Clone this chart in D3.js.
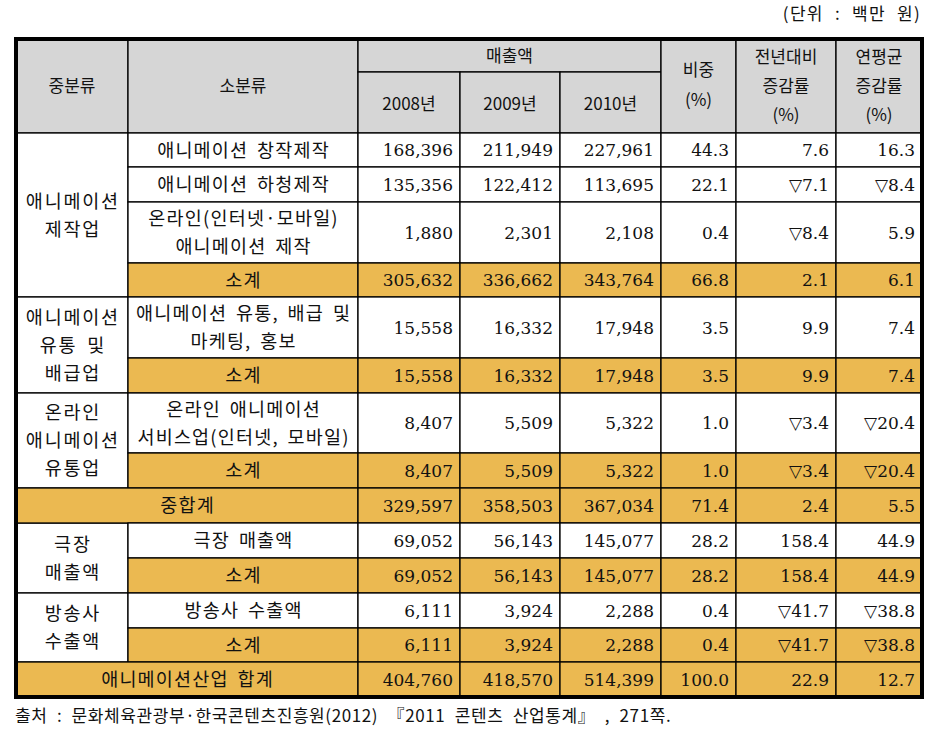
<!DOCTYPE html>
<html>
<head>
<meta charset="utf-8">
<script src="https://cdn.jsdelivr.net/npm/d3@7"></script>
<style>
  body { margin: 0; background: #fff; }
</style>
</head>
<body>
<div id="table"></div>
<script>
// Table values
var years = ["2008년", "2009년", "2010년"];
var subLabels = [
    "애니메이션 창작제작", "애니메이션 하청제작", "온라인(인터넷·모바일)|애니메이션 제작", "소계",
    "애니메이션 유통, 배급 및|마케팅, 홍보", "소계",
    "온라인 애니메이션|서비스업(인터넷, 모바일)", "소계",
    "중합계",
    "극장 매출액", "소계",
    "방송사 수출액", "소계",
    "애니메이션산업 합계"
];
var sales2008 = [168396, 135356, 1880, 305632, 15558, 15558, 8407, 8407, 329597, 69052, 69052, 6111, 6111, 404760];
var sales2009 = [211949, 122412, 2301, 336662, 16332, 16332, 5509, 5509, 358503, 56143, 56143, 3924, 3924, 418570];
var sales2010 = [227961, 113695, 2108, 343764, 17948, 17948, 5322, 5322, 367034, 145077, 145077, 2288, 2288, 514399];
var share = [44.3, 22.1, 0.4, 66.8, 3.5, 3.5, 1.0, 1.0, 71.4, 28.2, 28.2, 0.4, 0.4, 100.0];
var yoy = [7.6, -7.1, -8.4, 2.1, 9.9, 9.9, -3.4, -3.4, 2.4, 158.4, 158.4, -41.7, -41.7, 22.9];
var cagr = [16.3, -8.4, 5.9, 6.1, 7.4, 7.4, -20.4, -20.4, 5.5, 44.9, 44.9, -38.8, -38.8, 12.7];

// middle categories: label + first/last row index
var midLabels = ["애니메이션|제작업", "애니메이션|유통 및|배급업", "온라인|애니메이션|유통업", "극장|매출액", "방송사|수출액"];
var midStart = [0, 4, 6, 9, 11];
var midEnd = [3, 5, 7, 10, 12];
var subtotalRows = [3, 5, 7, 8, 10, 12, 13];
var totalRows = [8, 13];   // span both label columns

var unitText = "(단위 : 백만 원)";
var sourceText = "출처 : 문화체육관광부·한국콘텐츠진흥원(2012) 『2011 콘텐츠 산업통계』 , 271쪽.";

// Layout
var colX = [16, 128, 358, 460, 560, 661, 736, 836, 922];
var headTop = 39, headMid = 72, headBottom = 133;
var rowHeights = [34, 35, 61, 34, 61, 35, 60, 35, 35, 35, 35, 35, 34, 35];
var rowY = [headBottom].concat(Array.from(d3.cumsum(rowHeights), v => v + headBottom));

var gold = "#ebb951", grey = "#d6d6d6";
var sansKr = "'Noto Sans CJK KR', sans-serif";
var numFont = "'DejaVu Serif', serif";

var svg = d3.select("#table")
    .append("svg")
        .attr("width", 946)
        .attr("height", 749);

var fmt = d3.format(",");
function fmtPct(v) {
    return (v < 0 ? "▽" : "") + Math.abs(v).toFixed(1);
}

function cell(x0, x1, y0, y1, fill) {
    svg.append("rect")
        .attr("x", x0).attr("y", y0)
        .attr("width", x1 - x0).attr("height", y1 - y0)
        .attr("fill", fill)
        .attr("stroke", "#000")
        .attr("stroke-width", 1.3);
}

function multiText(lines, cx, cy, lh, font, size, anchor, spacing) {
    var t = svg.append("text")
        .attr("font-family", font)
        .attr("font-size", size)
        .attr("text-anchor", anchor || "middle")
        .attr("fill", "#111");
    if (spacing) {
        t.attr("letter-spacing", spacing[0]).attr("word-spacing", spacing[1]);
    }
    var y0 = cy - (lines.length - 1) * lh / 2;
    lines.forEach(function(s, i) {
        t.append("tspan")
            .attr("x", cx + (spacing ? spacing[0] / 2 : 0))
            .attr("y", y0 + i * lh)
            .attr("dy", "0.36em")
            .text(s);
    });
}

// Header
cell(colX[0], colX[1], headTop, headBottom, grey);
cell(colX[1], colX[2], headTop, headBottom, grey);
cell(colX[2], colX[5], headTop, headMid, grey);
years.forEach(function(y, i) {
    cell(colX[2 + i], colX[3 + i], headMid, headBottom, grey);
    multiText([y], (colX[2 + i] + colX[3 + i]) / 2, (headMid + headBottom) / 2 + 1, 0, sansKr, 17);
});
cell(colX[5], colX[6], headTop, headBottom, grey);
cell(colX[6], colX[7], headTop, headBottom, grey);
cell(colX[7], colX[8], headTop, headBottom, grey);
var hc = (headTop + headBottom) / 2;
multiText(["중분류"], (colX[0] + colX[1]) / 2, hc, 0, sansKr, 17);
multiText(["소분류"], (colX[1] + colX[2]) / 2, hc, 0, sansKr, 17);
multiText(["매출액"], (colX[2] + colX[5]) / 2, (headTop + headMid) / 2, 0, sansKr, 17);
multiText(["비중", "(%)"], (colX[5] + colX[6]) / 2, hc - 1, 30, sansKr, 17);
multiText(["전년대비", "증감률", "(%)"], (colX[6] + colX[7]) / 2, hc, 29, sansKr, 17);
multiText(["연평균", "증감률", "(%)"], (colX[7] + colX[8]) / 2, hc, 29, sansKr, 17);

// Middle category cells
midLabels.forEach(function(lab, i) {
    var y0 = rowY[midStart[i]], y1 = rowY[midEnd[i] + 1];
    cell(colX[0], colX[1], y0, y1, "#fff");
    multiText(lab.split("|"), (colX[0] + colX[1]) / 2, (y0 + y1) / 2, 28, sansKr, 18.5, "middle", [1.8, 4]);
});

// Body rows
subLabels.forEach(function(lab, r) {
    var y0 = rowY[r], y1 = rowY[r + 1], cy = (y0 + y1) / 2;
    var fill = subtotalRows.indexOf(r) >= 0 ? gold : "#fff";
    var x0 = totalRows.indexOf(r) >= 0 ? colX[0] : colX[1];
    cell(x0, colX[2], y0, y1, fill);
    multiText(lab.split("|"), (x0 + colX[2]) / 2, cy, 28, sansKr, 18.5, "middle", [1.2, 3.5]);

    var vals = [fmt(sales2008[r]), fmt(sales2009[r]), fmt(sales2010[r]),
                share[r].toFixed(1), fmtPct(yoy[r]), fmtPct(cagr[r])];
    vals.forEach(function(v, c) {
        cell(colX[2 + c], colX[3 + c], y0, y1, fill);
        multiText([v], colX[3 + c] - 7, cy, 0, numFont, 17, "end");
    });
});

// Thick outer border
svg.append("rect")
    .attr("x", colX[0]).attr("y", headTop)
    .attr("width", colX[8] - colX[0])
    .attr("height", rowY[rowY.length - 1] - headTop)
    .attr("fill", "none")
    .attr("stroke", "#000")
    .attr("stroke-width", 4);

// Unit and source notes
svg.append("text")
    .attr("x", 921).attr("y", 14).attr("dy", "0.36em")
    .attr("text-anchor", "end")
    .attr("font-family", sansKr)
    .attr("font-size", 17)
    .attr("letter-spacing", 1.3)
    .attr("word-spacing", 6)
    .attr("fill", "#111")
    .text(unitText);

svg.append("text")
    .attr("x", 15).attr("y", 716).attr("dy", "0.36em")
    .attr("font-family", sansKr)
    .attr("font-size", 17)
    .attr("letter-spacing", 0.6)
    .attr("word-spacing", 5)
    .attr("fill", "#111")
    .text(sourceText);
</script>
</body>
</html>
